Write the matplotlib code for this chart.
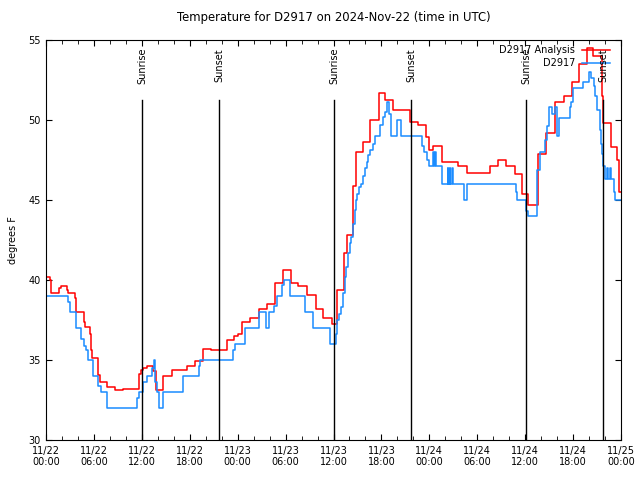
import numpy as np
import matplotlib
matplotlib.use("Agg")
import matplotlib.pyplot as plt
from matplotlib.ticker import MultipleLocator

# hours since 2024-11-22 00:00 UTC and temperature (F), step data
obs_hours = [0, 2.8, 3.0, 3.7, 4.4, 4.75, 5.05, 5.3, 5.9, 6.55, 6.85, 7.7,
             11.35, 11.65, 12.2, 12.6, 13.3, 13.5, 13.65, 13.85, 14.2, 14.6,
             17.1, 19.1, 19.3, 23.4, 23.7, 24.9, 26.7, 27.5, 27.95, 28.6,
             28.9, 29.6, 29.8, 30.5, 32.4, 33.4, 35.5, 35.6, 36.3, 36.4,
             36.7, 37.0, 37.2, 37.4, 37.5, 37.6, 37.85, 38.05, 38.25, 38.45,
             38.7, 38.8, 38.95, 39.2, 39.5, 39.7, 39.95, 40.15, 40.35, 40.55,
             40.95, 41.2, 41.8, 42.2, 42.45, 42.75, 43.0, 43.15, 43.9, 44.5,
             47.1, 47.3, 47.75, 48.0, 48.45, 48.55, 48.7, 48.85, 49.55, 50.3,
             50.4, 50.55, 50.65, 50.85, 50.95, 52.35, 52.7, 58.85, 59.0, 60.1,
             60.3, 61.5, 61.8, 62.5, 62.7, 63.0, 63.3, 63.7, 64.0, 64.2,
             65.6, 65.8, 66.0, 67.2, 68.0, 68.3, 68.6, 68.8, 69.0, 69.35,
             69.5, 69.65, 69.8, 70.0, 70.2, 70.4, 70.6, 70.8, 71.1, 71.3, 72]
obs_temp = [39, 38.6, 38, 37, 36.3, 35.9, 35.6, 35, 34, 33.4, 33, 32,
            32.6, 33, 33.6, 34, 34.5, 35, 33.6, 33, 32, 33,
            34, 34.6, 35, 35.6, 36, 37, 38, 37, 38, 38.4,
            39, 39.7, 40, 39, 38, 37, 36.3, 36, 36.6, 37.5,
            37.9, 38.3, 39.2, 39.7, 40.2, 40.8, 41.7, 42.3, 42.7, 43.5,
            44.4, 45, 45.4, 45.8, 46, 46.5, 47, 47.4, 47.8, 48.1,
            48.5, 49, 49.7, 50.2, 50.5, 51.1, 50.4, 49, 50, 49,
            48.4, 48, 47.5, 47.1, 48, 47.1, 48, 47.1, 46, 47,
            46, 47, 46, 47, 46, 45, 46, 45.5, 45, 44.3,
            44, 46.9, 48, 48.75, 49.6, 50.8, 50.4, 50.8, 49, 50.1,
            50.8, 51.1, 52, 52.4, 53, 52.6, 52.1, 51.5, 50.6, 49.4,
            48.5, 47.9, 47.1, 46.3, 47, 46.3, 47, 46.3, 45.5, 45, 45]

ana_hours = [0, 0.5, 0.65, 1.6, 1.85, 2.6, 2.8, 3.6, 3.8, 4.7, 4.85, 5.5,
             5.65, 5.8, 6.55, 6.75, 7.7, 8.7, 9.6, 11.6, 11.85, 12.1, 12.7,
             13.35, 13.75, 14.6, 15.75, 17.7, 18.65, 19.6, 20.6, 22.7, 23.6,
             24.0, 24.6, 25.6, 26.7, 27.7, 28.7, 29.7, 30.65, 31.6, 32.7,
             33.75, 34.7, 35.8, 36.5, 37.3, 37.65, 38.4, 38.8, 39.7, 40.6,
             41.75, 42.45, 43.5, 45.6, 46.6, 47.6, 47.9, 48.45, 49.55, 50.6,
             51.65, 52.7, 54.55, 55.6, 56.6, 57.65, 58.7, 59.55, 60.4, 61.55,
             62.6, 63.75, 64.8, 65.85, 66.7, 67.7, 68.5, 69.6, 69.8, 70.7,
             71.5, 71.7, 72]
ana_temp = [40.2, 40, 39.2, 39.5, 39.6, 39.4, 39.2, 38.9, 38, 37.4, 37.05, 36.6,
            35.6, 35.1, 34.06, 33.6, 33.3, 33.1, 33.2, 34.1, 34.4, 34.5, 34.6,
            34.3, 33.1, 34, 34.4, 34.6, 34.95, 35.7, 35.6, 36.25, 36.5,
            36.6, 37.4, 37.6, 38.2, 38.5, 39.8, 40.6, 39.8, 39.6, 39.06,
            38.2, 37.6, 37.25, 39.4, 41.7, 42.8, 45.9, 48, 48.6, 50.0,
            51.7, 51.25, 50.6, 49.9, 49.7, 48.95, 48.1, 48.4, 47.35, 47.4,
            47.1, 46.7, 46.7, 47.1, 47.5, 47.1, 46.6, 45.4, 44.7, 47.9,
            49.2, 51.1, 51.5, 52.4, 53.5, 54.5, 54, 51.5, 49.8, 48.3,
            47.5, 45.5, 45.5]

sun_hours = [12.04, 21.7, 36.1, 45.75, 60.15, 69.8]
sun_labels = ["Sunrise", "Sunset", "Sunrise", "Sunset", "Sunrise", "Sunset"]

tick_hours = list(range(0, 73, 6))
tick_labels = ["11/22\n00:00", "11/22\n06:00", "11/22\n12:00", "11/22\n18:00",
               "11/23\n00:00", "11/23\n06:00", "11/23\n12:00", "11/23\n18:00",
               "11/24\n00:00", "11/24\n06:00", "11/24\n12:00", "11/24\n18:00",
               "11/25\n00:00"]

plt.rcParams["font.family"] = ["DejaVu Sans"]
plt.rcParams["font.size"] = 7

fig = plt.figure(figsize=(6.4, 4.8), dpi=100)
ax = fig.add_axes([46/640, 40/480, 575/640, 400/480])

red = "#ff0000"
blue = "#1a8cff"

ax.plot(ana_hours, ana_temp, drawstyle="steps-post", color=red, lw=1.1)
ax.plot(obs_hours, obs_temp, drawstyle="steps-post", color=blue, lw=1.1)

for h, lab in zip(sun_hours, sun_labels):
    ax.axvline(h, ymin=0, ymax=0.85, color="black", lw=1.0)
    ax.text(h, 0.98, lab, rotation=90, ha="center", va="top",
            transform=ax.get_xaxis_transform())

# legend drawn by hand, gnuplot style
for i, (lab, col) in enumerate([("D2917 Analysis", red), ("D2917", blue)]):
    yy = 0.975 - i * 0.0325
    ax.text(0.92, yy, lab, ha="right", va="center", transform=ax.transAxes)
    ax.plot([0.932, 0.981], [yy, yy], color=col, lw=1.1, transform=ax.transAxes)

ax.set_xlim(0, 72)
ax.set_ylim(30, 55)
ax.set_xticks(tick_hours)
ax.set_xticklabels(tick_labels)
ax.xaxis.set_minor_locator(MultipleLocator(2))
ax.yaxis.set_major_locator(MultipleLocator(5))
ax.tick_params(direction="in", which="major", length=4.5, top=True, right=True, pad=4)
ax.tick_params(direction="in", which="minor", length=3, top=True, right=True)
ax.set_ylabel("degrees F", labelpad=7)
ax.set_title("Temperature for D2917 on 2024-Nov-22 (time in UTC)", pad=14)

fig.savefig("out.png", dpi=100)
